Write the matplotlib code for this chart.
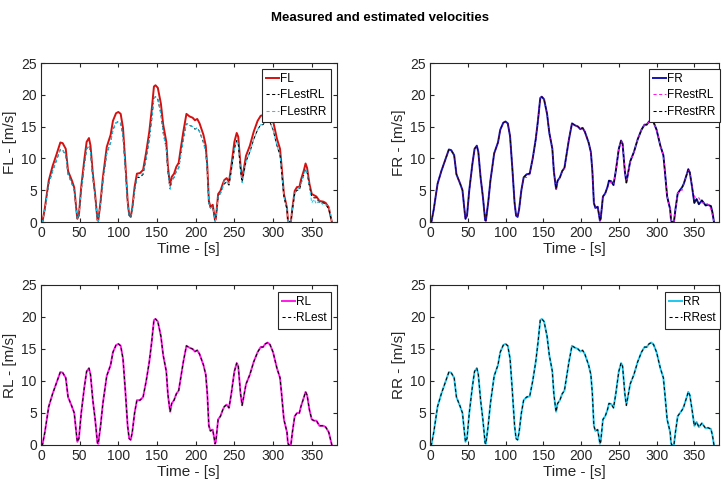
import matplotlib
matplotlib.use('Agg')
import matplotlib.pyplot as plt

t = [0, 2, 5, 10, 15, 20, 25, 28, 32, 35,
     40, 43, 46, 47, 49, 52, 56, 59, 62, 64,
     67, 70, 73, 74, 77, 80, 85, 90, 93, 97,
     100, 103, 106, 109, 112, 114, 116, 118, 121, 124,
     128, 132, 136, 140, 143, 146, 148, 151, 155, 158,
     162, 164, 166, 167, 169, 172, 175, 178, 180, 184,
     188, 192, 196, 199, 202, 205, 210, 213, 215, 217,
     219, 222, 224, 225, 226, 229, 232, 235, 237, 240,
     243, 246, 250, 253, 255, 258, 260, 262, 265, 270,
     275, 280, 284, 287, 290, 293, 296, 300, 305, 309,
     311, 314, 316, 318, 319, 320, 323, 325, 328, 331,
     334, 336, 340, 342, 344, 347, 350, 353, 356, 360,
     365, 368, 372, 374, 376]

# measured front-left (higher than the estimates)
fl = [0, 0.1, 2.2, 6.5, 8.8, 10.6, 12.5, 12.4, 11.5, 8,
      6.5, 5.4, 1.6, 0.5, 1.1, 5.5, 9.8, 12.6, 13.2, 12,
      7.6, 4.3, 0.3, 0.2, 3.2, 7, 11.8, 13.7, 15.9, 17.1,
      17.3, 17, 14.8, 9.3, 3.3, 1.1, 0.8, 2.2, 5.5, 7.6,
      7.7, 8.2, 11, 14.2, 17.5, 21.3, 21.5, 21.1, 18.6, 15.3,
      12.6, 8.8, 6.6, 5.7, 7.1, 7.6, 8.7, 9.3, 11, 14.2,
      17, 16.6, 16.4, 16, 16.2, 15.5, 13.7, 12, 8.7, 3.3,
      2.4, 2.7, 1.1, 0.2, 0.5, 4.4, 4.9, 6, 6.6, 6.9,
      6.3, 8.8, 12.6, 14, 13.4, 8.8, 6.7, 8.2, 10.4, 12,
      14.2, 15.9, 16.7, 16.8, 17.4, 17.6, 17.2, 15.9, 13.1, 11.5,
      8.8, 4.4, 3.3, 2.2, 0.5, 0, 0, 2.2, 4.9, 5.5,
      5.5, 6.6, 8.2, 9.2, 8.5, 6, 4.4, 4.2, 4.0, 3.3,
      3.2, 3.0, 2.3, 1.1, 0]

rl = [0, 0.1, 2, 6, 8, 9.7, 11.4, 11.3, 10.5, 7.5,
      6, 5, 1.5, 0.5, 1, 5, 9, 11.5, 12, 11,
      7, 4, 0.3, 0.2, 3, 6.5, 10.8, 12.5, 14.5, 15.6,
      15.8, 15.5, 13.5, 8.5, 3, 1, 0.8, 2, 5, 7,
      7, 7.5, 10, 13, 16, 19.5, 19.7, 19.3, 17, 14,
      11.5, 8, 6, 5.2, 6.5, 7, 8, 8.5, 10, 13,
      15.5, 15.2, 15, 14.6, 14.8, 14.2, 12.5, 11, 8, 3,
      2.2, 2.4, 1, 0.2, 0.5, 4, 4.5, 5.5, 6, 6.3,
      5.8, 8, 11.5, 12.8, 12.3, 8, 6.2, 7.5, 9.5, 11,
      13, 14.5, 15.3, 15.3, 15.8, 16, 15.7, 14.5, 12, 10.5,
      8, 4, 3, 2, 0.5, 0, 0, 2, 4.5, 5,
      5, 6, 7.5, 8.3, 7.8, 5.5, 4, 3.8, 3.8, 3,
      3, 2.8, 2, 1, 0]

rr = [0, 0.1, 2, 6, 8, 9.7, 11.4, 11.3, 10.5, 7.5,
      6, 5, 1.5, 0.5, 1, 5, 9, 11.5, 12, 11,
      7, 4, 0.3, 0.2, 3, 6.5, 10.8, 12.5, 14.5, 15.6,
      15.8, 15.5, 13.5, 8.5, 3, 1, 0.8, 2, 5, 7,
      7.5, 7.6, 10, 13, 16, 19.5, 19.7, 19.3, 17, 14,
      11.5, 8, 6, 5.2, 6.5, 7, 8, 8.5, 10, 13,
      15.5, 15.2, 15, 14.6, 14.8, 14.2, 12.5, 11, 8, 3,
      2.2, 2.4, 1, 0.2, 0.5, 4, 4.5, 5.5, 6.5, 6.4,
      5.8, 8, 11.5, 12.8, 12.3, 8, 6.2, 7.5, 9.5, 11,
      13, 14.5, 15.3, 15.3, 15.8, 16, 15.7, 14.5, 12, 10.5,
      8, 4, 3, 2, 0.5, 0, 0, 2, 4.5, 5,
      5.5, 6, 7.5, 8.3, 7.8, 5.5, 3, 3.6, 2.8, 3.4,
      2.6, 2.7, 2.5, 1.5, 0]

fr = list(rr)

plt.rcParams['font.family'] = ['Liberation Sans', 'DejaVu Sans']
plt.rcParams['axes.edgecolor'] = '#262626'
plt.rcParams['xtick.color'] = '#262626'
plt.rcParams['ytick.color'] = '#262626'

RED = '#d41111'
NAVY = '#1414b4'
MAG = '#ff19e6'
CYAN = '#1ec8f0'

fig = plt.figure(figsize=(7.22, 4.84), dpi=100)
W, H = 722, 484

def make_ax(x0, y0, x1, y1):
    return fig.add_axes([x0 / W, 1 - y1 / H, (x1 - x0) / W, (y1 - y0) / H])

panels = [
    (make_ax(41, 63, 336.5, 222), 'FL - [m/s]',
     [(fl, RED, '-', 'FL'), (rl, 'k', '--', 'FLestRL'), (rr, CYAN, '--', 'FLestRR')],
     (331, 69)),
    (make_ax(430, 63, 718.5, 222), 'FR - [m/s]',
     [(fr, NAVY, '-', 'FR'), (rl, MAG, '--', 'FRestRL'), (rr, 'k', '--', 'FRestRR')],
     (720, 69)),
    (make_ax(41, 285, 336.5, 445), 'RL - [m/s]',
     [(rl, MAG, '-', 'RL'), (rl, 'k', '--', 'RLest')],
     (331, 292)),
    (make_ax(430, 285, 718.5, 445), 'RR - [m/s]',
     [(rr, CYAN, '-', 'RR'), (rr, 'k', '--', 'RRest')],
     (720, 292)),
]

for ax, ylab, series, (lx, ly) in panels:
    for y, c, ls, lab in series:
        if ls == '--':
            ax.plot(t, y, color=c, linewidth=0.75, dashes=(3, 2.4), label=lab)
        else:
            ax.plot(t, y, color=c, linewidth=1.4, label=lab)
    ax.set_xlim(0, 382)
    ax.set_ylim(0, 25)
    ax.set_xticks(range(0, 351, 50))
    ax.set_yticks(range(0, 26, 5))
    ax.tick_params(direction='in', top=True, right=True, length=3, labelsize=10, pad=3)
    ax.set_xlabel('Time - [s]', fontsize=11, labelpad=1, color='#262626')
    ax.set_ylabel(ylab, fontsize=11, labelpad=3, color='#262626')
    leg = ax.legend(loc='upper right', bbox_to_anchor=(lx / W, 1 - ly / H),
                    bbox_transform=fig.transFigure, fontsize=8.5, frameon=True,
                    fancybox=False, edgecolor='#262626', framealpha=1,
                    handlelength=1.1, handletextpad=0.1, borderpad=0.35,
                    labelspacing=0.36, borderaxespad=0)
    leg.get_frame().set_linewidth(0.8)

fig.text(0.526, 0.962, 'Measured and estimated velocities', ha='center', va='center',
         fontsize=9.5, fontweight='bold')

fig.savefig('out.png', dpi=100)
